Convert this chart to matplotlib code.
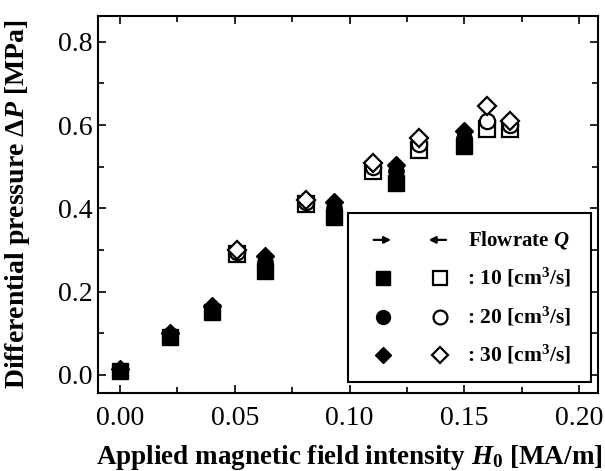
import matplotlib
matplotlib.use("Agg")
import matplotlib.pyplot as plt
from matplotlib.patches import Rectangle
from matplotlib.ticker import MultipleLocator, FuncFormatter

plt.rcParams['mathtext.fontset'] = 'custom'
plt.rcParams['mathtext.rm'] = 'Liberation Serif:bold'
plt.rcParams['mathtext.it'] = 'Liberation Serif:italic:bold'
plt.rcParams['mathtext.bf'] = 'Liberation Serif:bold'

# Increasing field (filled markers)
h_up = [0.0, 0.022, 0.040, 0.063, 0.093, 0.120, 0.150]
p_up_10 = [0.01, 0.09, 0.15, 0.25, 0.38, 0.46, 0.55]
p_up_20 = [0.01, 0.095, 0.155, 0.27, 0.40, 0.49, 0.57]
p_up_30 = [0.015, 0.10, 0.165, 0.285, 0.415, 0.505, 0.585]

# Decreasing field (open markers)
h_dn = [0.051, 0.081, 0.110, 0.130, 0.160, 0.170]
p_dn_10 = [0.29, 0.41, 0.49, 0.54, 0.59, 0.59]
p_dn_20 = [0.295, 0.415, 0.50, 0.555, 0.61, 0.60]
p_dn_30 = [0.30, 0.42, 0.51, 0.57, 0.645, 0.61]

legend_rows = [": 10 [cm$^3$/s]", ": 20 [cm$^3$/s]", ": 30 [cm$^3$/s]"]

fig = plt.figure(figsize=(6.05, 4.71), dpi=100)
ax = fig.add_axes([0.162, 0.166, 0.826, 0.800])

ms = 11
ax.plot(h_up, p_up_10, 's', color='black', ms=ms, zorder=3)
ax.plot(h_up, p_up_20, 'o', color='black', ms=ms, zorder=3)
ax.plot(h_up, p_up_30, 'D', color='black', ms=ms * 0.85, zorder=3)
ax.plot(h_dn, p_dn_10, 's', mfc='white', mec='black', mew=1.6, ms=ms, zorder=3)
ax.plot(h_dn, p_dn_20, 'o', mfc='white', mec='black', mew=1.6, ms=ms, zorder=4)
ax.plot(h_dn, p_dn_30, 'D', mfc='white', mec='black', mew=1.6, ms=ms * 0.85, zorder=5)

ax.set_xlim(-0.0095, 0.208)
ax.set_ylim(-0.043, 0.862)
ax.xaxis.set_major_locator(MultipleLocator(0.05))
ax.xaxis.set_minor_locator(MultipleLocator(0.025))
ax.yaxis.set_major_locator(MultipleLocator(0.2))
ax.yaxis.set_minor_locator(MultipleLocator(0.1))
ax.tick_params(which='both', direction='in', top=True, right=True, width=1.2)
ax.tick_params(which='major', length=6, labelsize=20)
ax.tick_params(axis='x', which='major', pad=9.5)
ax.tick_params(axis='y', which='major', pad=4)
ax.tick_params(which='minor', length=4)
ax.xaxis.set_major_formatter(FuncFormatter(lambda v, p: f"{v:.2f}"))
ax.yaxis.set_major_formatter(FuncFormatter(lambda v, p: f"{v:.1f}"))
for lab in ax.get_xticklabels() + ax.get_yticklabels():
    lab.set_family('Liberation Serif')
for s in ax.spines.values():
    s.set_linewidth(1.5)

ax.set_xlabel(r"Applied magnetic field intensity $\mathit{H}_0$ [MA/m]",
              family='Liberation Serif', fontweight='bold', fontsize=19.5)
ax.set_ylabel(r"Differential pressure $\mathit{\Delta P}$ [MPa]",
              family='Liberation Serif', fontweight='bold', fontsize=20)
ax.xaxis.set_label_coords((349 - 98) / 500.0, (393 - 443) / 377.0)
ax.yaxis.set_label_coords((32 - 98) / 500.0, 0.5)

# Custom legend (axes fraction coordinates)
tr = ax.transAxes
def fx(px):
    return (px - 98) / 500.0
def fy(py):
    return (393 - py) / 377.0

ax.add_patch(Rectangle((fx(348), fy(382)), fx(591) - fx(348), fy(213) - fy(382),
                       transform=tr, fill=True, fc='white', ec='black', lw=1.5, zorder=6))
rows_y = [240, 278, 317, 355]
ax.annotate('', xy=(fx(394), fy(rows_y[0])), xytext=(fx(371), fy(rows_y[0])),
            xycoords=tr, textcoords=tr,
            arrowprops=dict(arrowstyle='-|>', color='black', lw=1.6, mutation_scale=10), zorder=7)
ax.annotate('', xy=(fx(426), fy(rows_y[0])), xytext=(fx(449), fy(rows_y[0])),
            xycoords=tr, textcoords=tr,
            arrowprops=dict(arrowstyle='-|>', color='black', lw=1.6, mutation_scale=10), zorder=7)
ax.text(fx(468), fy(rows_y[0]), r"Flowrate $\mathit{Q}$", transform=tr, va='center', ha='left',
        family='Liberation Serif', fontweight='bold', fontsize=15, zorder=7)
markers = ['s', 'o', 'D']
for i, (m, lab) in enumerate(zip(markers, legend_rows)):
    y = fy(rows_y[i + 1])
    sz = 10 if m != 'D' else 8.5
    ax.plot([fx(383)], [y], m, color='black', ms=sz, transform=tr, zorder=7, clip_on=False)
    ax.plot([fx(440)], [y], m, mfc='white', mec='black', mew=1.6, ms=sz, transform=tr,
            zorder=7, clip_on=False)
    ax.text(fx(467), y, lab, transform=tr, va='center', ha='left',
            family='Liberation Serif', fontweight='bold', fontsize=15.5, zorder=7)

fig.savefig("out.png", dpi=100)
